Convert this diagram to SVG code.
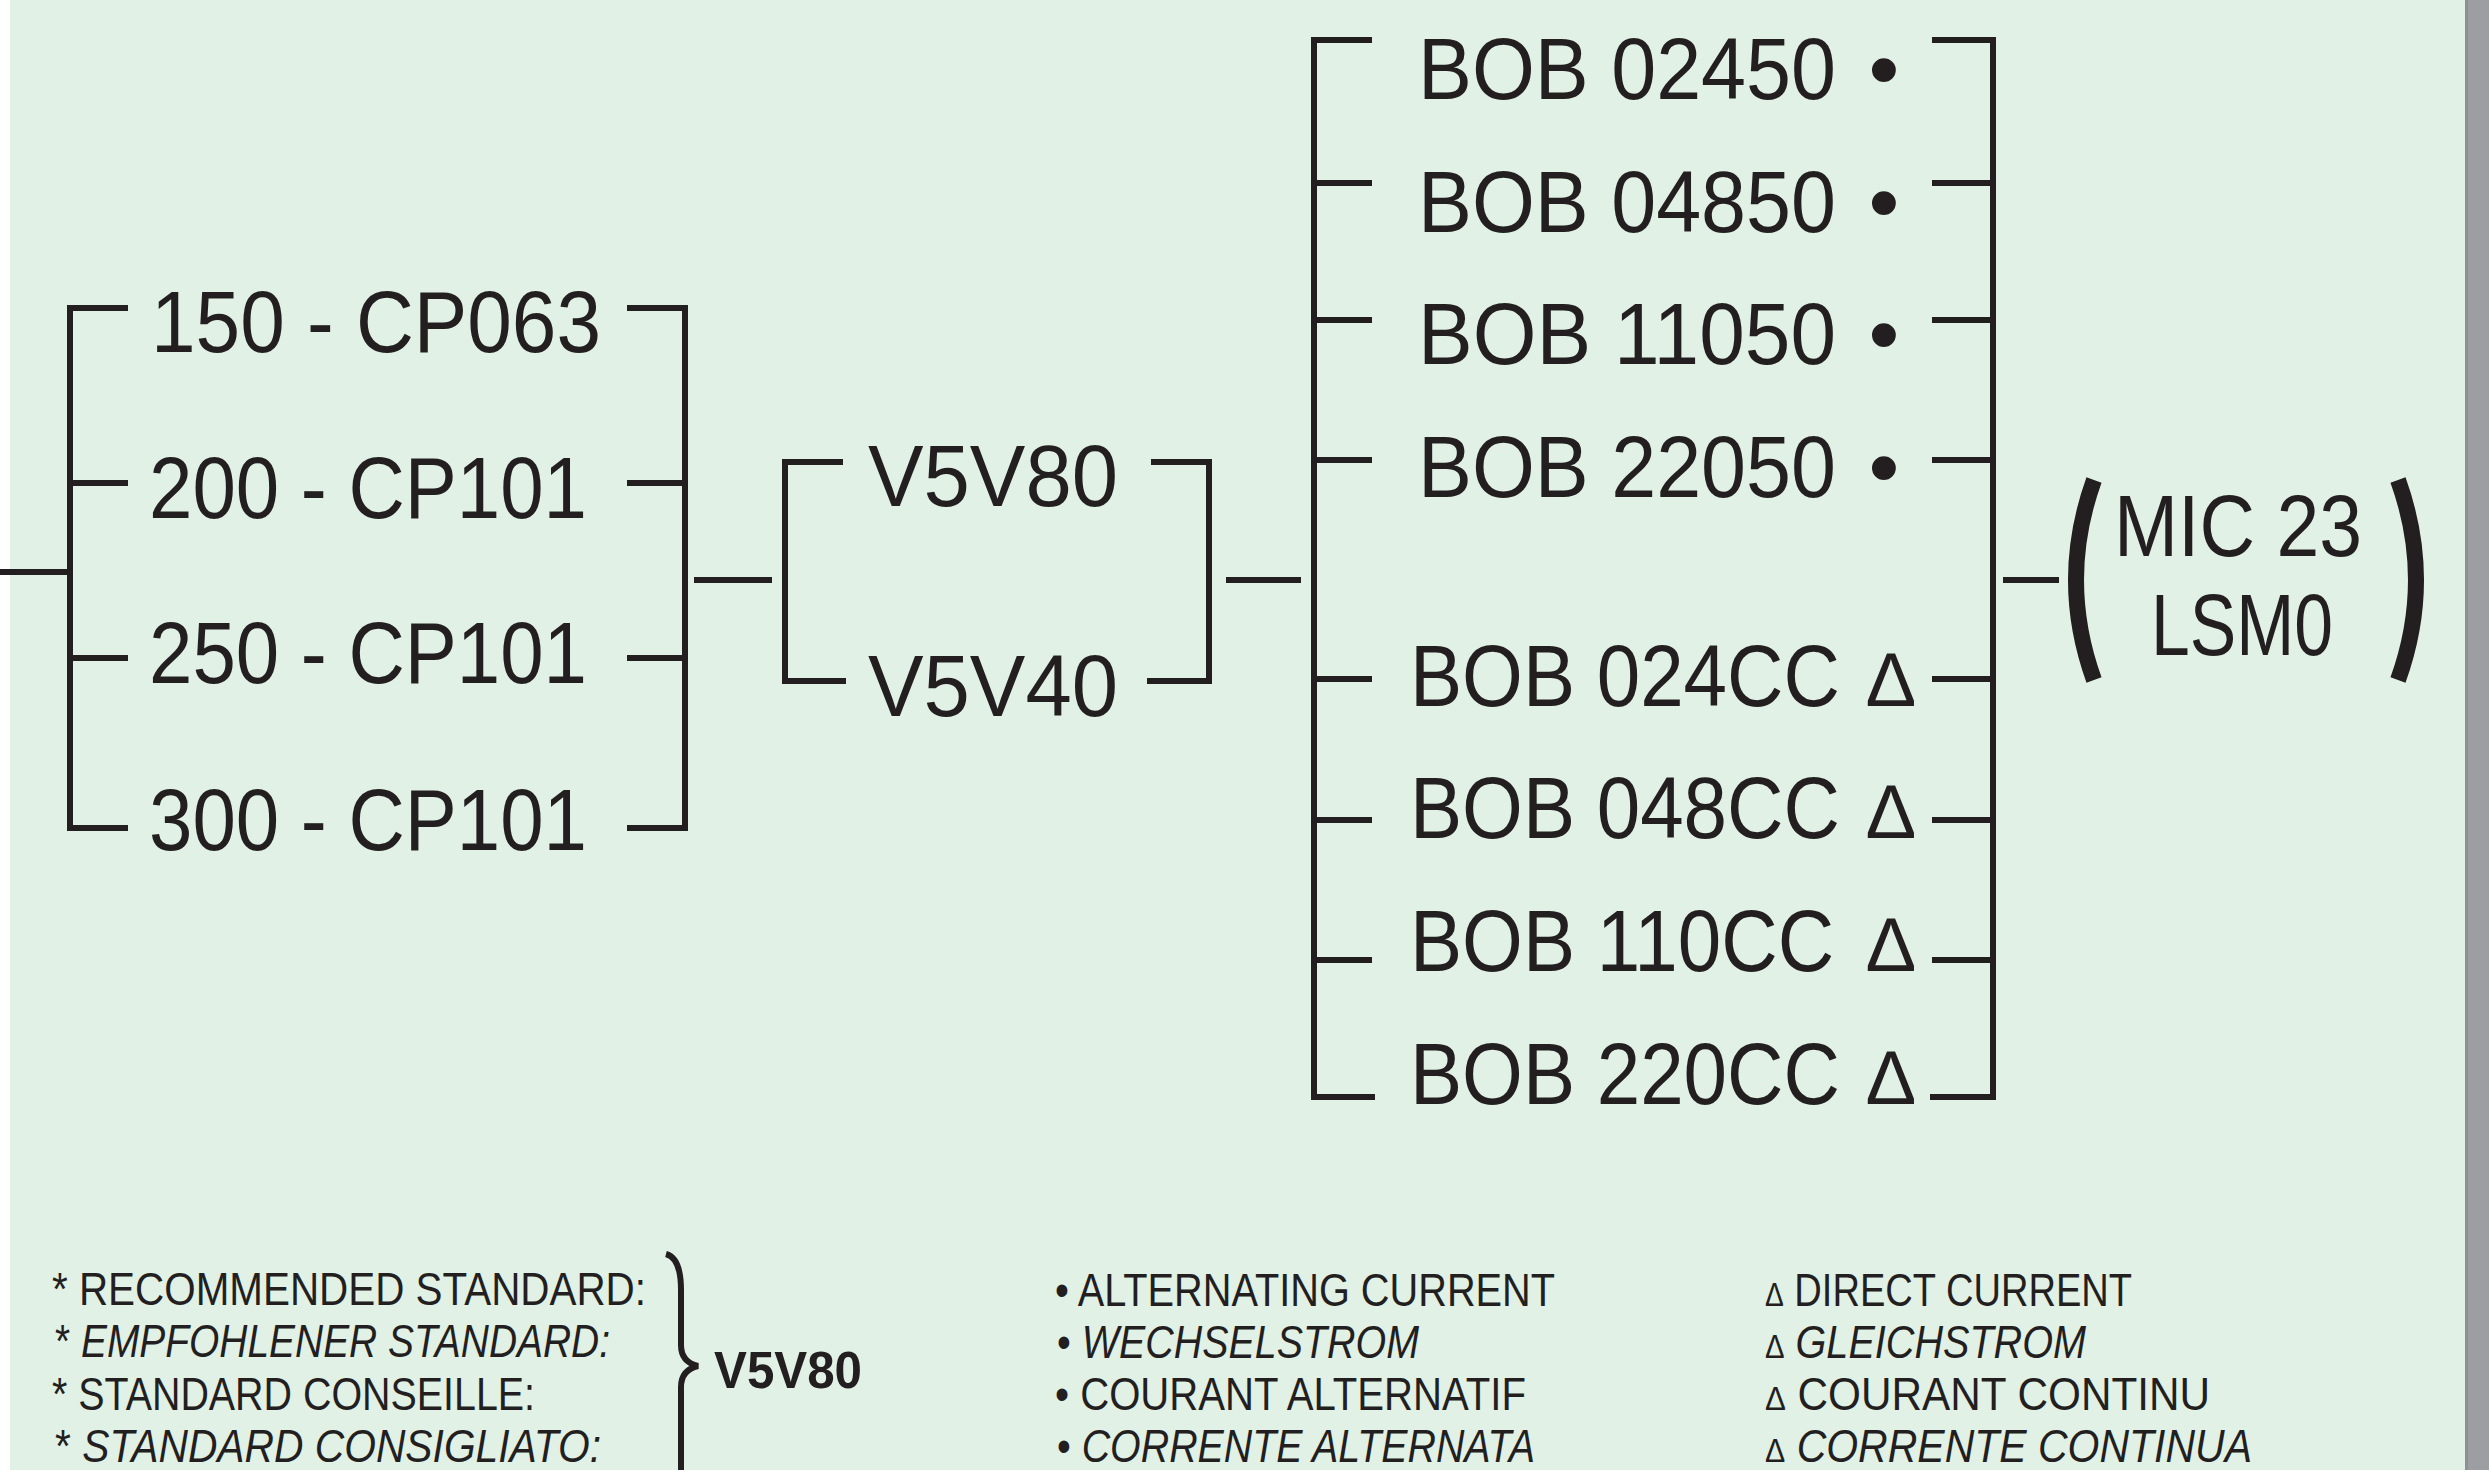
<svg xmlns="http://www.w3.org/2000/svg" width="2489" height="1470" viewBox="0 0 2489 1470">
<style>
.ln{stroke:#231f20;stroke-width:6;fill:none;stroke-linecap:butt;stroke-linejoin:miter}
.par{stroke:#231f20;stroke-width:16;fill:none;stroke-linecap:butt}
text{font-family:"Liberation Sans",Arial,sans-serif;fill:#231f20}
.big{font-size:88px}
.leg{font-size:46px}
.it{font-style:italic}
.dl{font-size:76px}
.bold{font-weight:bold;font-size:52px}
</style>
<rect x="0" y="0" width="2489" height="1470" fill="#ffffff"/>
<rect x="10" y="0" width="2456" height="1470" fill="#e1f1e6"/>
<rect x="2466" y="0" width="23" height="1470" fill="#9d9ea2"/>
<rect x="2465" y="0" width="3" height="1470" fill="#8e9093"/>

<g id="connectors">
  <path class="ln" d="M0 572 H70"/>
  <path class="ln" d="M128 308 H70 V828 H128 M70 483 H128 M70 658 H128"/>
  <path class="ln" d="M627 308 H685 V828 H627 M627 483 H685 M627 658 H685"/>
  <path class="ln" d="M694 580 H772"/>
  <path class="ln" d="M843 462 H785 V681 H846"/>
  <path class="ln" d="M1151 462 H1209 V681 H1147"/>
  <path class="ln" d="M1226 580 H1301"/>
  <path class="ln" d="M1372 40 H1314 V1097 H1375 M1314 183 H1372 M1314 320 H1372 M1314 460 H1372 M1314 679 H1372 M1314 820 H1372 M1314 960 H1372"/>
  <path class="ln" d="M1932 40 H1993 V1097 H1930 M1932 183 H1993 M1932 320 H1993 M1932 460 H1993 M1932 679 H1993 M1932 820 H1993 M1932 960 H1993"/>
  <path class="ln" d="M2003 580 H2059"/>
</g>

<g id="n150"><text class="big" x="151" y="352" textLength="450" lengthAdjust="spacingAndGlyphs">150 - CP063</text></g>
<g id="n200"><text class="big" x="149" y="518" textLength="438" lengthAdjust="spacingAndGlyphs">200 - CP101</text></g>
<g id="n250"><text class="big" x="149" y="683" textLength="438" lengthAdjust="spacingAndGlyphs">250 - CP101</text></g>
<g id="n300"><text class="big" x="149" y="850" textLength="438" lengthAdjust="spacingAndGlyphs">300 - CP101</text></g>

<g id="nV5V80"><text class="big" x="868" y="506" textLength="250" lengthAdjust="spacingAndGlyphs">V5V80</text></g>
<g id="nV5V40"><text class="big" x="868" y="716" textLength="250" lengthAdjust="spacingAndGlyphs">V5V40</text></g>

<g id="nBOB02450"><text class="big" x="1418" y="99" textLength="418" lengthAdjust="spacingAndGlyphs">BOB 02450</text><text class="big" x="1884" y="99" text-anchor="middle">•</text></g>
<g id="nBOB04850"><text class="big" x="1418" y="232" textLength="418" lengthAdjust="spacingAndGlyphs">BOB 04850</text><text class="big" x="1884" y="232" text-anchor="middle">•</text></g>
<g id="nBOB11050"><text class="big" x="1418" y="364" textLength="418" lengthAdjust="spacingAndGlyphs">BOB 11050</text><text class="big" x="1884" y="364" text-anchor="middle">•</text></g>
<g id="nBOB22050"><text class="big" x="1418" y="497" textLength="418" lengthAdjust="spacingAndGlyphs">BOB 22050</text><text class="big" x="1884" y="497" text-anchor="middle">•</text></g>

<g id="nBOB024CC"><text class="big" transform="translate(1410 706) scale(0.888 1)">BOB 024CC</text><text class="dl" x="1891" y="706" text-anchor="middle">Δ</text></g>
<g id="nBOB048CC"><text class="big" transform="translate(1410 838) scale(0.888 1)">BOB 048CC</text><text class="dl" x="1891" y="838" text-anchor="middle">Δ</text></g>
<g id="nBOB110CC"><text class="big" transform="translate(1410 971) scale(0.888 1)">BOB 110CC</text><text class="dl" x="1891" y="971" text-anchor="middle">Δ</text></g>
<g id="nBOB220CC"><text class="big" transform="translate(1410 1104) scale(0.888 1)">BOB 220CC</text><text class="dl" x="1891" y="1104" text-anchor="middle">Δ</text></g>

<g id="nMIC">
  <path class="par" d="M2094 480 Q2058 580 2094 680"/>
  <path class="par" d="M2398 480 Q2434 580 2398 680"/>
  <text class="big" x="2114" y="556" textLength="248" lengthAdjust="spacingAndGlyphs">MIC 23</text>
  <text class="big" x="2151" y="655" textLength="182" lengthAdjust="spacingAndGlyphs">LSM0</text>
</g>

<g id="legend-standard">
  <text class="leg" x="52" y="1305" textLength="594" lengthAdjust="spacingAndGlyphs">* RECOMMENDED STANDARD:</text>
  <text class="leg" x="55" y="1357" textLength="555" lengthAdjust="spacingAndGlyphs">* <tspan class="it">EMPFOHLENER STANDARD:</tspan></text>
  <text class="leg" x="52" y="1410" textLength="483" lengthAdjust="spacingAndGlyphs">* STANDARD CONSEILLE:</text>
  <text class="leg" x="55" y="1462" textLength="546" lengthAdjust="spacingAndGlyphs">* <tspan class="it">STANDARD CONSIGLIATO:</tspan></text>
  <path class="ln" d="M666 1254 Q681 1258 681 1290 V1345 Q681 1362 698 1366 Q681 1370 681 1387 V1480"/>
  <text class="bold" x="714" y="1388" textLength="148" lengthAdjust="spacingAndGlyphs">V5V80</text>
</g>

<g id="legend-ac">
  <text class="leg" x="1055" y="1306" textLength="500" lengthAdjust="spacingAndGlyphs">• ALTERNATING CURRENT</text>
  <text class="leg" x="1057" y="1358" textLength="362" lengthAdjust="spacingAndGlyphs">• <tspan class="it">WECHSELSTROM</tspan></text>
  <text class="leg" x="1055" y="1410" textLength="471" lengthAdjust="spacingAndGlyphs">• COURANT ALTERNATIF</text>
  <text class="leg" x="1057" y="1462" textLength="478" lengthAdjust="spacingAndGlyphs">• <tspan class="it">CORRENTE ALTERNATA</tspan></text>
</g>

<g id="legend-dc">
  <text class="leg" x="1765" y="1306" textLength="367" lengthAdjust="spacingAndGlyphs"><tspan font-size="34">Δ</tspan> DIRECT CURRENT</text>
  <text class="leg" x="1765" y="1358" textLength="321" lengthAdjust="spacingAndGlyphs"><tspan font-size="34">Δ</tspan> <tspan class="it">GLEICHSTROM</tspan></text>
  <text class="leg" x="1765" y="1410" textLength="445" lengthAdjust="spacingAndGlyphs"><tspan font-size="34">Δ</tspan> COURANT CONTINU</text>
  <text class="leg" x="1765" y="1462" textLength="487" lengthAdjust="spacingAndGlyphs"><tspan font-size="34">Δ</tspan> <tspan class="it">CORRENTE CONTINUA</tspan></text>
</g>
</svg>
